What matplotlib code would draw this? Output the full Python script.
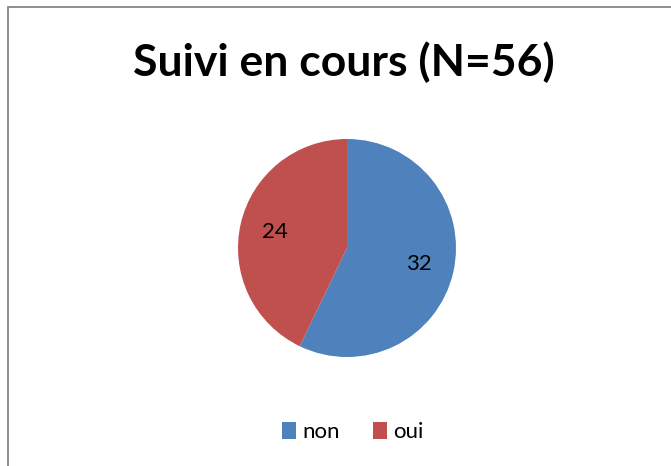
import matplotlib.pyplot as plt
from matplotlib.patches import Rectangle, Patch

categories = ['non', 'oui']
values = [32, 24]
colors = ['#4F81BD', '#C0504D']
title = 'Suivi en cours (N=56)'

plt.rcParams['font.family'] = ['Lato', 'DejaVu Sans']

fig = plt.figure(figsize=(6.71, 4.66), dpi=100)

# cadre gris du graphique (coupé à droite et en bas)
fig.patches.append(Rectangle((8 / 671, -0.05), 1.0, 1 - 7 / 466 + 0.05,
                             transform=fig.transFigure, fill=False,
                             edgecolor='#868686', linewidth=1.3))

fig.text(344 / 671, 1 - 62 / 466, title, ha='center', va='center',
         fontsize=32, fontweight='bold', color='black')

ax = fig.add_axes([238 / 671, (466 - 357) / 466, 218 / 671, 218 / 466])
wedges, texts, autotexts = ax.pie(values, colors=colors, startangle=90,
                                  counterclock=False, radius=1,
                                  autopct=lambda p: '%d' % round(p * sum(values) / 100),
                                  pctdistance=0.68,
                                  textprops={'fontsize': 16, 'color': 'black'})
ax.set_xlim(-1, 1)
ax.set_ylim(-1, 1)
ax.set_aspect('auto')
ax.axis('off')

handles = [Patch(facecolor=c, label=l) for c, l in zip(colors, categories)]
fig.legend(handles=handles, loc='center', bbox_to_anchor=(353 / 671, 1 - 432 / 466),
           ncol=2, frameon=False, fontsize=16, handlelength=0.6, handleheight=0.85,
           handletextpad=0.3, columnspacing=1.5)

fig.savefig('out.png', dpi=100)
